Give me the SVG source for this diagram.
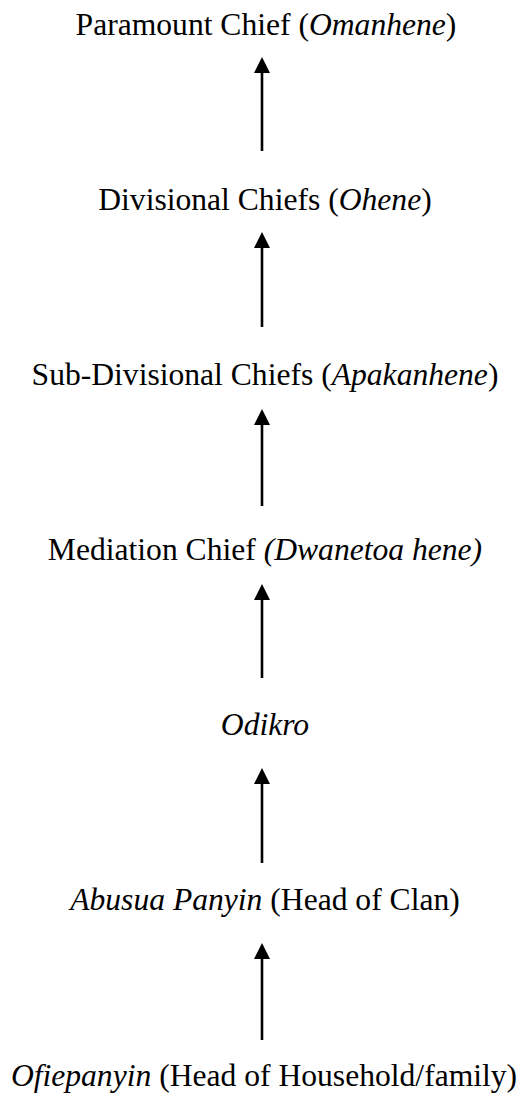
<svg xmlns="http://www.w3.org/2000/svg" width="526" height="1093" viewBox="0 0 526 1093">
  <style>
    .lbl { font-family: "Liberation Serif", "Times New Roman", Times, serif; font-size: 31.6px; fill: #000; text-anchor: middle; }
    .it { font-style: italic; }
    .conn { stroke: #000; stroke-width: 2.6; fill: none; marker-end: url(#ah); }
  </style>
  <defs>
    <marker id="ah" viewBox="0 0 16 16" refX="1" refY="8" markerWidth="16" markerHeight="16" markerUnits="userSpaceOnUse" orient="auto">
      <path d="M0,0 L16,8 L0,16 Z" fill="#000"/>
    </marker>
  </defs>
  <rect width="526" height="1093" fill="#fff"/>
  <g id="n1"><text class="lbl" font-family="Liberation Serif, serif" x="266" y="35">Paramount Chief (<tspan class="it">Omanhene</tspan>)</text></g>
  <g id="n2"><text class="lbl" font-family="Liberation Serif, serif" x="265" y="210">Divisional Chiefs (<tspan class="it">Ohene</tspan>)</text></g>
  <g id="n3"><text class="lbl" font-family="Liberation Serif, serif" x="265" y="385">Sub-Divisional Chiefs (<tspan class="it">Apakanhene</tspan>)</text></g>
  <g id="n4"><text class="lbl" font-family="Liberation Serif, serif" x="265" y="560">Mediation Chief <tspan class="it">(Dwanetoa hene)</tspan></text></g>
  <g id="n5"><text class="lbl" font-family="Liberation Serif, serif" x="265" y="735"><tspan class="it">Odikro</tspan></text></g>
  <g id="n6"><text class="lbl" font-family="Liberation Serif, serif" x="265" y="910"><tspan class="it">Abusua Panyin</tspan> (Head of Clan)</text></g>
  <g id="n7"><text class="lbl" font-family="Liberation Serif, serif" x="264" y="1086"><tspan class="it">Ofiepanyin</tspan> (Head of Household/family)</text></g>
  <g id="connectors">
    <line class="conn" x1="262" y1="151" x2="262" y2="72"/>
    <line class="conn" x1="262" y1="327" x2="262" y2="247"/>
    <line class="conn" x1="262" y1="506" x2="262" y2="424"/>
    <line class="conn" x1="262" y1="678" x2="262" y2="599"/>
    <line class="conn" x1="262" y1="863" x2="262" y2="783"/>
    <line class="conn" x1="262" y1="1040" x2="262" y2="958"/>
  </g>
</svg>
